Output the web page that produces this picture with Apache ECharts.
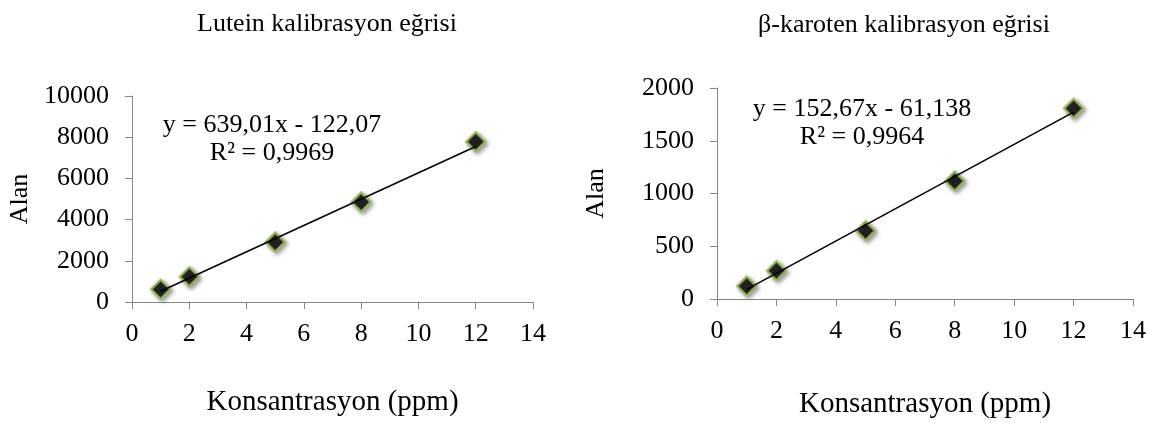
<!DOCTYPE html>
<html lang="tr">
<head>
    <meta charset="UTF-8">
    <title>Kalibrasyon eğrileri</title>
    <script src="https://cdn.jsdelivr.net/npm/echarts@6/dist/echarts.min.js"></script>
    <style>
        body { margin: 0; background: #fff; }
        #app { width: 1153px; height: 423px; }
    </style>
</head>
<body>
    <div id="app"></div>
    <script>
        // veriler
        var konsantrasyon = [1, 2, 5, 8, 12];
        var luteinAlan = [616, 1228, 2910, 4850, 7780];
        var karotenAlan = [123, 268, 647, 1118, 1807];
        var xTicks = [0, 2, 4, 6, 8, 10, 12, 14];
        // trend denklemleri: [lutein, karoten]
        var egim = [639.01, 152.67];
        var kesisim = [-122.07, -61.138];
        var denklemler = ['y = 639,01x - 122,07\nR² = 0,9969', 'y = 152,67x - 61,138\nR² = 0,9964'];
        var basliklar = ['Lutein kalibrasyon eğrisi', 'β-karoten kalibrasyon eğrisi'];

        var font = '"Liberation Serif", "Times New Roman", serif';
        var axisGray = '#868686';

        function trend(i) {
            var x0 = konsantrasyon[0], x1 = konsantrasyon[konsantrasyon.length - 1];
            return [[x0, egim[i] * x0 + kesisim[i]], [x1, egim[i] * x1 + kesisim[i]]];
        }
        function pts(ys) {
            return konsantrasyon.map(function (x, k) { return [x, ys[k]]; });
        }

        function xEkseni(idx, gap) {
            return {
                type: 'value', gridIndex: idx, min: xTicks[0], max: xTicks[xTicks.length - 1], interval: 2,
                name: 'Konsantrasyon (ppm)', nameLocation: 'middle', nameGap: gap,
                nameTextStyle: { fontFamily: font, fontSize: 29, color: '#000' },
                axisLine: { lineStyle: { color: axisGray, width: 1 } },
                axisTick: { show: true, length: 7, lineStyle: { color: axisGray } },
                axisLabel: { fontFamily: font, fontSize: 26, color: '#000', margin: 19 },
                splitLine: { show: false }
            };
        }
        function yEkseni(idx, max, step, gap) {
            return {
                type: 'value', gridIndex: idx, min: 0, max: max, interval: step,
                name: 'Alan', nameLocation: 'middle', nameGap: gap, nameRotate: 90,
                nameTextStyle: { fontFamily: font, fontSize: 26, color: '#000' },
                axisLine: { show: true, lineStyle: { color: axisGray, width: 1 } },
                axisTick: { show: true, length: 7, lineStyle: { color: axisGray } },
                axisLabel: {
                    fontFamily: font, fontSize: 26, color: '#000', margin: 23,
                    formatter: function (v) { return String(v); }
                },
                splitLine: { show: false }
            };
        }
        function noktalar(idx, ys) {
            return {
                type: 'scatter', xAxisIndex: idx, yAxisIndex: idx, data: pts(ys),
                symbol: 'diamond', symbolSize: 19, z: 2,
                itemStyle: {
                    color: '#000', borderColor: '#9bbb59', borderWidth: 2.5,
                    shadowBlur: 4, shadowColor: 'rgba(0,0,0,0.45)', shadowOffsetX: 2, shadowOffsetY: 2
                }
            };
        }
        function trendCizgisi(idx) {
            return {
                type: 'line', xAxisIndex: idx, yAxisIndex: idx, data: trend(idx),
                symbol: 'none', z: 3, silent: true,
                lineStyle: { color: '#000', width: 1.6 }
            };
        }

        var myChart = echarts.init(document.getElementById('app'));
        var option = {
            backgroundColor: '#fff',
            animation: false,
            title: [
                { text: basliklar[0], left: 197, top: 11, padding: 0,
                  textStyle: { fontFamily: font, fontSize: 26, fontWeight: 'normal', color: '#000', lineHeight: 26 } },
                { text: basliklar[1], left: 758, top: 12, padding: 0,
                  textStyle: { fontFamily: font, fontSize: 26, fontWeight: 'normal', color: '#000', lineHeight: 26 } },
                { text: denklemler[0], left: 272, top: 111, padding: 0, textAlign: 'center',
                  textStyle: { fontFamily: font, fontSize: 26, fontWeight: 'normal', color: '#000', lineHeight: 28, align: 'center' } },
                { text: denklemler[1], left: 862, top: 95, padding: 0, textAlign: 'center',
                  textStyle: { fontFamily: font, fontSize: 26, fontWeight: 'normal', color: '#000', lineHeight: 28, align: 'center' } }
            ],
            grid: [
                { left: 132, right: 620, top: 96, bottom: 121 },
                { left: 717, right: 20, top: 88, bottom: 124 }
            ],
            xAxis: [xEkseni(0, 86), xEkseni(1, 91)],
            yAxis: [yEkseni(0, 10000, 2000, 99), yEkseni(1, 2000, 500, 108)],
            series: [
                noktalar(0, luteinAlan),
                trendCizgisi(0),
                noktalar(1, karotenAlan),
                trendCizgisi(1)
            ]
        };
        myChart.setOption(option);
    </script>
</body>
</html>
